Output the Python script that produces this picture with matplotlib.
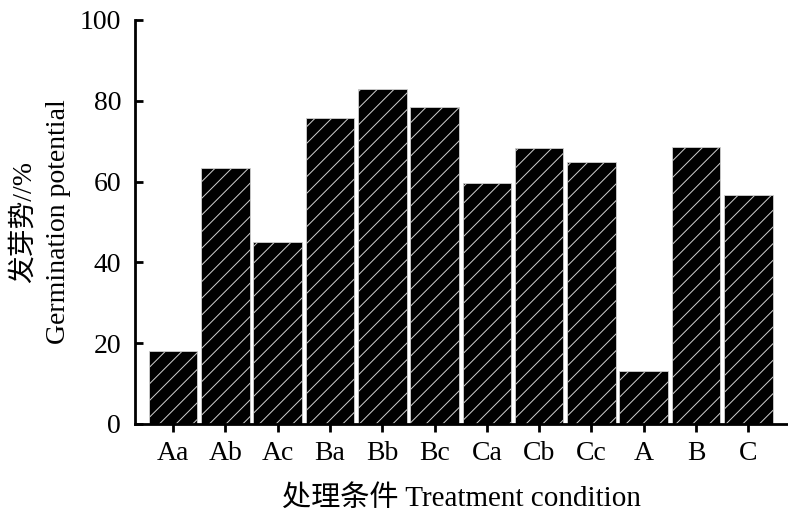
import matplotlib
matplotlib.use("Agg")
import matplotlib.pyplot as plt

# Germination potential per treatment
treatments = ["Aa", "Ab", "Ac", "Ba", "Bb", "Bc", "Ca", "Cb", "Cc", "A", "B", "C"]
germination = [18.0, 63.4, 45.0, 75.8, 82.9, 78.4, 59.7, 68.3, 64.9, 13.1, 68.6, 56.7]

plt.rcParams["font.family"] = ["Liberation Serif", "Noto Sans CJK SC"]
plt.rcParams["hatch.color"] = "#d0d0d0"
plt.rcParams["hatch.linewidth"] = 0.7

fig = plt.figure(figsize=(7.88, 5.11), dpi=100)
ax = fig.add_axes([0.1713, 0.1703, 0.8287, 0.7906])

x = range(len(treatments))
ax.bar(x, germination, width=0.93, color="black", edgecolor="#d0d0d0",
       linewidth=0.6, hatch="//")

ax.set_xlim(-0.73, len(treatments) - 0.24)
ax.set_ylim(0, 100)
ax.set_yticks([0, 20, 40, 60, 80, 100])
ax.set_xticks(list(x))
ax.set_xticklabels(treatments)

ax.spines["top"].set_visible(False)
ax.spines["right"].set_visible(False)
ax.spines["left"].set_linewidth(2)
ax.spines["bottom"].set_linewidth(2)
ax.tick_params(axis="y", direction="in", length=6, width=2, labelsize=20, pad=10)
ax.tick_params(axis="x", direction="out", length=6, width=2, labelsize=20, pad=6)

ax.set_xlabel("处理条件 Treatment condition", fontsize=21, labelpad=14)
ax.set_ylabel("发芽势//%\nGermination potential", fontsize=20, labelpad=6,
              linespacing=1.5)

fig.savefig("out.png", dpi=100)
